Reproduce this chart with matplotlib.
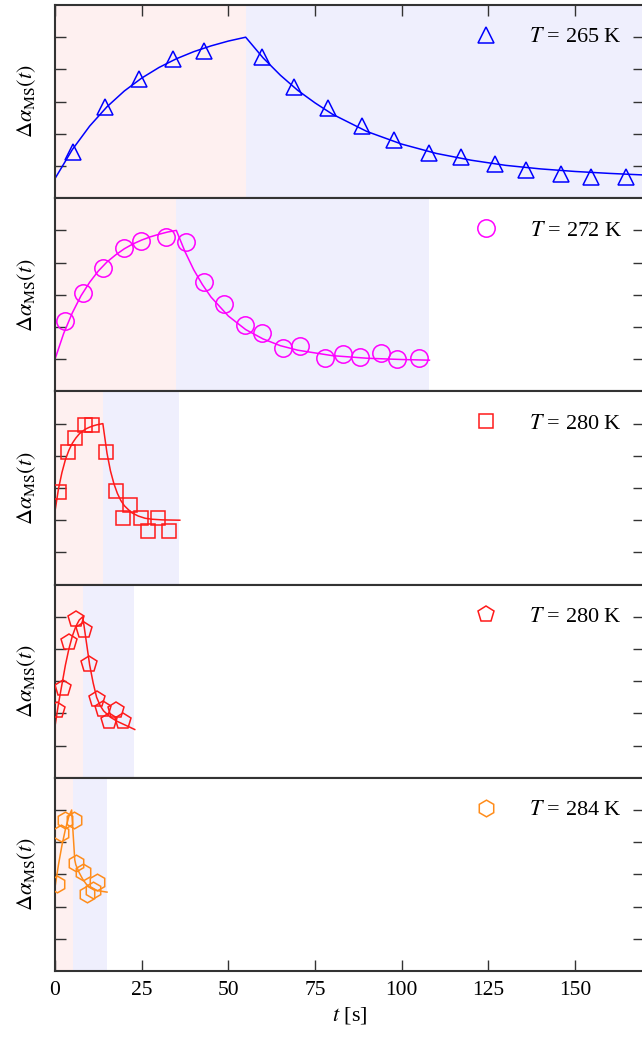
import matplotlib
matplotlib.use("Agg")
import matplotlib.pyplot as plt

plt.rcParams['font.family'] = ['Liberation Serif', 'DejaVu Serif']
plt.rcParams['mathtext.fontset'] = 'stix'

# panel temperatures / styles
temps = ['265', '272', '280', '280', '284']
colors = ['#0000ff', '#ff00ff', '#ff1a1a', '#ff1a1a', '#ff8c1a']
markers = ['^', 'o', 's', 'p', 'h']
msizes = [11.5, 12.5, 10.5, 12, 12]

# switch time (end of pink region) and end of lavender region [s]
t_switch = [55, 35, 13.9, 8.2, 5.1]
t_end = [175, 108, 35.9, 22.9, 14.9]

# measured points (t in s, signal in tick units)
t1 = [5.2, 14.3, 24.1, 33.9, 43.0, 59.8, 68.8, 78.7, 88.6, 97.7, 107.8, 117.0, 126.9, 135.9, 145.9, 154.6, 164.6]
y1 = [1.45, 2.83, 3.69, 4.33, 4.57, 4.40, 3.45, 2.80, 2.23, 1.81, 1.40, 1.29, 1.05, 0.88, 0.74, 0.67, 0.65]

t2 = [2.8, 8.0, 13.9, 19.8, 24.8, 31.9, 37.8, 42.9, 48.8, 54.8, 59.8, 65.7, 70.8, 77.9, 83.0, 87.9, 93.9, 98.7, 104.9]
y2 = [2.20, 3.05, 3.84, 4.46, 4.68, 4.80, 4.63, 3.40, 2.70, 2.06, 1.80, 1.34, 1.42, 1.05, 1.16, 1.08, 1.19, 1.02, 1.05]

t3 = [1.25, 3.85, 5.9, 8.65, 10.7, 14.7, 17.7, 19.7, 21.7, 24.8, 26.7, 29.6, 32.8]
y3 = [2.89, 4.13, 4.54, 4.96, 4.96, 4.13, 2.90, 2.07, 2.48, 2.07, 1.66, 2.07, 1.66]

t4 = [0.7, 2.2, 4.0, 6.1, 8.5, 9.9, 12.0, 13.8, 15.7, 17.6, 19.5]
y4 = [2.10, 2.80, 4.22, 4.94, 4.58, 3.53, 2.46, 2.14, 1.77, 2.10, 1.77]

t5 = [0.5, 1.6, 2.8, 5.5, 6.2, 8.0, 9.3, 10.9, 12.2]
y5 = [2.71, 4.29, 4.69, 4.69, 3.34, 3.06, 2.40, 2.53, 2.76]

# fitted curves
ft1 = [0, 5, 10, 15, 20, 25, 30, 35, 40, 45, 50, 55, 60, 65, 70, 75, 80, 90, 100, 110, 120, 130, 140, 150, 160, 170]
fy1 = [0.61, 1.51, 2.24, 2.84, 3.33, 3.73, 4.06, 4.33, 4.55, 4.73, 4.88, 5.00,
       4.36, 3.82, 3.35, 2.96, 2.61, 2.07, 1.68, 1.39, 1.18, 1.02, 0.91, 0.83, 0.77, 0.72]

ft2 = [0, 2.5, 5, 7.5, 10, 12.5, 15, 17.5, 20, 22.5, 25, 27.5, 30, 32.5, 35,
       37.5, 40, 42.5, 45, 50, 55, 60, 65, 70, 80, 90, 100, 108]
fy2 = [1.0, 1.80, 2.44, 2.97, 3.39, 3.74, 4.02, 4.24, 4.43, 4.58, 4.70, 4.80, 4.88, 4.95, 5.0,
       4.34, 3.78, 3.32, 2.93, 2.34, 1.92, 1.63, 1.42, 1.28, 1.11, 1.03, 0.99, 0.97]

ft3 = [0, 1, 2, 3, 4, 5, 6, 7, 8, 9, 10, 11, 12, 13.8,
       15, 16, 17, 18, 19, 20, 22, 24, 26, 28, 31, 36]
fy3 = [2.28, 2.97, 3.48, 3.88, 4.17, 4.39, 4.55, 4.68, 4.77, 4.84, 4.89, 4.93, 4.96, 5.0,
       4.08, 3.53, 3.13, 2.83, 2.61, 2.45, 2.24, 2.13, 2.06, 2.03, 2.01, 2.0]

ft4 = [0, 1, 2, 3, 4, 5, 6, 7, 8, 9, 10, 11, 12, 13, 14, 16, 18, 20, 23]
fy4 = [1.6, 2.3, 2.9, 3.5, 4.0, 4.4, 4.7, 4.9, 5.0, 4.25, 3.5, 2.95, 2.5, 2.25, 2.08, 1.88, 1.75, 1.65, 1.5]

ft5 = [0, 1, 2, 3, 4, 4.8, 5.7, 6.0, 7, 8, 9, 10, 12, 15]
fy5 = [2.6, 3.3, 3.9, 4.4, 4.8, 5.0, 3.45, 3.3, 3.05, 2.85, 2.7, 2.6, 2.5, 2.45]

pts_t = [t1, t2, t3, t4, t5]
pts_y = [y1, y2, y3, y4, y5]
fit_t = [ft1, ft2, ft3, ft4, ft5]
fit_y = [fy1, fy2, fy3, fy4, fy5]

pink = '#fef0f0'
lav = '#efeffd'
spine_col = '#333333'

fig, axes = plt.subplots(5, 1, sharex=True, figsize=(6.42, 10.38), dpi=100,
                         gridspec_kw={'hspace': 0})
fig.subplots_adjust(left=55/642, right=644.4/642, top=1-5/1038, bottom=67/1038)

for i, ax in enumerate(axes):
    ax.axvspan(0, t_switch[i], color=pink, lw=0, zorder=0)
    ax.axvspan(t_switch[i], t_end[i], color=lav, lw=0, zorder=0)
    ax.plot(fit_t[i], fit_y[i], '-', color=colors[i], lw=1.1, zorder=2)
    ax.plot(pts_t[i], pts_y[i], linestyle='none', marker=markers[i], ms=msizes[i],
            mfc='none', mec=colors[i], mew=1.1, zorder=3,
            label=r'$T$ = %s K' % temps[i])
    ax.legend(loc='center right', bbox_to_anchor=(0.962, 5/6), frameon=False,
              fontsize=16, borderpad=0, borderaxespad=0, handlelength=2.0,
              handletextpad=0.95, numpoints=1)
    ax.set_xlim(0, 170)
    ax.set_ylim(0, 6)
    ax.set_yticks([1, 2, 3, 4, 5])
    ax.tick_params(axis='both', direction='in', length=8, width=1, color=spine_col,
                   left=True, right=True, top=(i == 0), bottom=(i == 4),
                   labelleft=False, labelbottom=(i == 4), labelsize=15.5, pad=7)
    for s in ax.spines.values():
        s.set_linewidth(1.5)
        s.set_color(spine_col)
    ax.set_ylabel(r'$\Delta\alpha_{\mathrm{MS}}(t)$', fontsize=16, labelpad=12)

axes[-1].set_xticks([0, 25, 50, 75, 100, 125, 150])
axes[-1].set_xlabel(r'$t$ [s]', fontsize=16, labelpad=4)

fig.savefig('out.png', dpi=100)
